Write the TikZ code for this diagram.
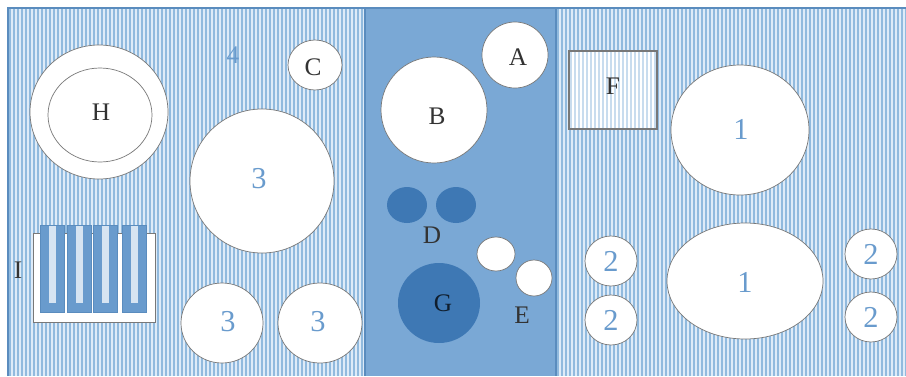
\documentclass[tikz,border=0pt]{standalone}
\usepackage{fontspec}
\setmainfont{Liberation Serif}
\usepackage{tikz}
\usetikzlibrary{calc}
\definecolor{stripeBg}{RGB}{222, 235, 248}
\definecolor{stripeLn}{RGB}{145, 186, 222}
\definecolor{stripeLt}{RGB}{200, 220, 238}
\definecolor{midblue}{RGB}{122, 168, 213}
\definecolor{darkblob}{RGB}{62, 120, 180}
\definecolor{framebl}{RGB}{90, 140, 190}
\definecolor{numclr}{RGB}{105, 155, 205}
\definecolor{slotclr}{RGB}{214, 228, 242}
\definecolor{rimgray}{RGB}{120, 120, 120}
\tikzset{
  % Fon chiziqlari
  stripeline/.style = {draw=stripeLn, line width=0.9pt},
  stripelite/.style = {draw=stripeLt, line width=0.75pt},
  frameline/.style  = {draw=framebl, line width=0.6pt},
  % Shakllar
  whiteblob/.style  = {fill=white, draw=rimgray, line width=0.4pt},
  darkfill/.style   = {fill=darkblob},
  finger/.style     = {fill=numclr, draw=framebl, line width=0.4pt},
  slot/.style       = {fill=slotclr},
  % Etiketlar
  lab/.style        = {font=\Large, text=black!80, inner sep=1pt},
  numlab/.style     = {font=\LARGE, text=numclr, inner sep=1pt},
}
\begin{document}
\begin{tikzpicture}[x=0.02cm, y=-0.02cm]
  \useasboundingbox (0,0) rectangle (906,376);
  % Panellar
  \fill[stripeBg] (8,8) rectangle (365,376);
  \fill[stripeBg] (556,8) rectangle (906,376);
  \foreach \x in {10,14,...,362} \draw[stripeline] (\x,8) -- (\x,376);
  \foreach \x in {558,562,...,906} \draw[stripeline] (\x,8) -- (\x,376);
  \fill[midblue] (365,8) rectangle (556,376);
  \draw[frameline] (8,376) -- (8,8) -- (906,8);
  \draw[frameline] (365,8) -- (365,376);
  \draw[frameline] (556,8) -- (556,376);
  % Chap panel
  \draw[whiteblob] (99,112) ellipse [x radius=69, y radius=67];
  \draw[whiteblob] (100,115) ellipse [x radius=52, y radius=47];
  \node[lab] (H) at (101,112) {H};
  \draw[whiteblob] (315,65) ellipse [x radius=27, y radius=25];
  \node[lab] (C) at (313,67) {C};
  \node[numlab, font=\Large] (four) at (233,55) {4};
  \draw[whiteblob] (262,181) circle [radius=72];
  \node[numlab] (big3) at (259,179) {3};
  \draw[whiteblob] (222,323) ellipse [x radius=41, y radius=40];
  \node[numlab] (lo3a) at (228,322) {3};
  \draw[whiteblob] (320,323) ellipse [x radius=42, y radius=40];
  \node[numlab] (lo3b) at (318,322) {3};
  % I tuzilma
  \draw[whiteblob] (33,233) rectangle (155,322);
  \foreach \x in {40,67,93,122} {
    \draw[finger] (\x,225) rectangle ++(24,87);
    \fill[slot] ($(\x,225)+(8.5,1)$) rectangle ++(7,77);
  }
  \node[lab] (I) at (18,270) {I};
  % O'rta panel
  \draw[whiteblob] (515,55) circle [radius=33];
  \node[lab] (A) at (518,57) {A};
  \draw[whiteblob] (434,110) circle [radius=53];
  \node[lab] (B) at (437,116) {B};
  \fill[darkfill] (407,205) ellipse [x radius=20, y radius=18];
  \fill[darkfill] (456,205) ellipse [x radius=20, y radius=18];
  \node[lab] (D) at (432,235) {D};
  \draw[whiteblob] (496,254) ellipse [x radius=19, y radius=17];
  \draw[whiteblob] (534,278) ellipse [x radius=18, y radius=18];
  \node[lab] (E) at (522,315) {E};
  \fill[darkfill] (439,303) ellipse [x radius=41, y radius=40];
  \node[lab, text=black!75!darkblob] (G) at (443,303) {G};
  % O'ng panel
  \fill[white] (569,51) rectangle (657,129);
  \foreach \x in {571,575,...,655} \draw[stripelite] (\x,51) -- (\x,129);
  \draw[frameline, draw=rimgray] (569,51) rectangle (657,129);
  \node[lab] (F) at (613,86) {F};
  \draw[whiteblob] (740,130) ellipse [x radius=69, y radius=65];
  \node[numlab] (top1) at (741,129) {1};
  \draw[whiteblob] (745,281) ellipse [x radius=78, y radius=58];
  \node[numlab] (bot1) at (745,282) {1};
  \foreach \cx/\cy/\nm in {611/261/la, 611/320/lb, 871/254/ra, 871/317/rb} {
    \draw[whiteblob] (\cx,\cy) ellipse [x radius=26, y radius=25];
    \node[numlab] (two\nm) at (\cx,\cy) {2};
  }
\end{tikzpicture}
\end{document}
